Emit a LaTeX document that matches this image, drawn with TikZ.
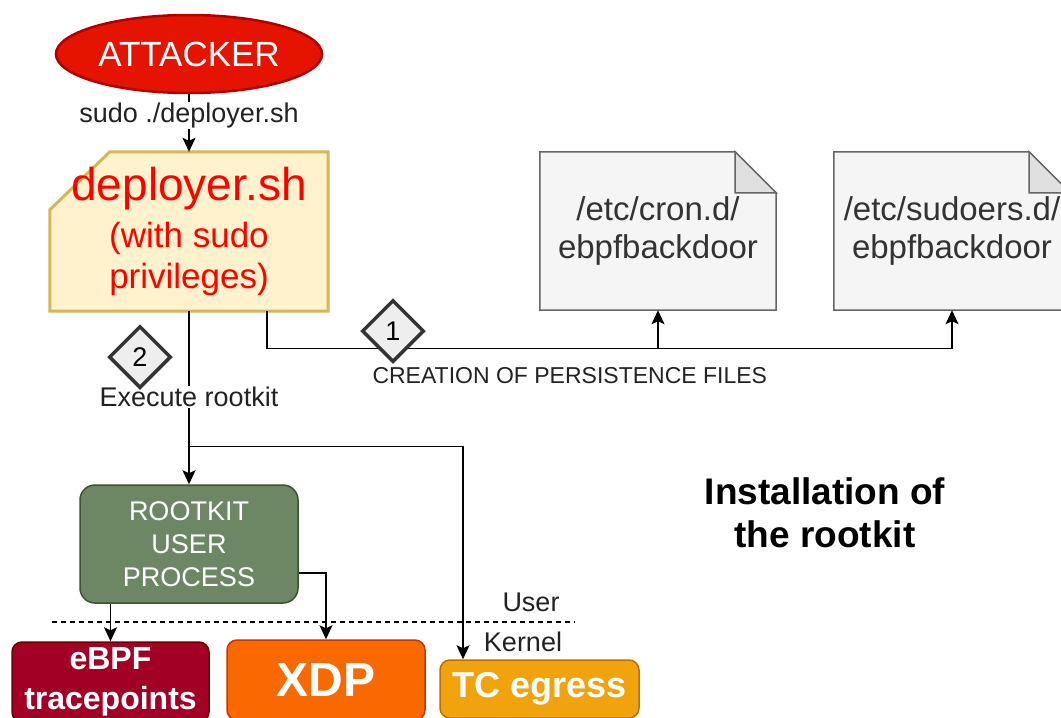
\documentclass[tikz,border=0pt]{standalone}
\usepackage{fontspec}
\setmainfont{Liberation Sans}
\usetikzlibrary{positioning,shapes.geometric,arrows.meta}
\definecolor{attfill}{HTML}{E51400}
\definecolor{attline}{HTML}{B20000}
\definecolor{depfill}{HTML}{FFF2CC}
\definecolor{depline}{HTML}{D6B656}
\definecolor{depred}{HTML}{FF0000}
\definecolor{filefill}{HTML}{F5F5F5}
\definecolor{foldfill}{HTML}{E0E0E0}
\definecolor{fileline}{HTML}{666666}
\definecolor{filetext}{HTML}{333333}
\definecolor{rkfill}{HTML}{6D8764}
\definecolor{rkline}{HTML}{3A5431}
\definecolor{ebpffill}{HTML}{A20025}
\definecolor{ebpfline}{HTML}{6F0000}
\definecolor{xdpfill}{HTML}{FA6800}
\definecolor{xdpline}{HTML}{C73500}
\definecolor{tcfill}{HTML}{F0A30A}
\definecolor{tcline}{HTML}{BD7000}
\definecolor{badgefill}{HTML}{EEEEEE}
\definecolor{badgeline}{HTML}{333333}
\definecolor{lbltext}{HTML}{222222}

\begin{document}
\begin{tikzpicture}[x=1pt,y=-1pt,
  arr/.style={-{Stealth[length=14pt,width=13pt,inset=3pt]},line width=1.4pt},
  lbl/.style={fill=white,inner sep=1pt,text=lbltext,font=\fontsize{27}{32}\selectfont},
  badge/.style={diamond,draw=badgeline,fill=badgefill,line width=3.5pt,minimum width=62,minimum height=62,inner sep=0,font=\fontsize{27}{30}\selectfont},
  kbox/.style={rounded corners=10pt,line width=1.5pt,text=white,align=center,inner sep=0},
  filebox/.style={minimum width=236,minimum height=158,inner sep=0}]
\useasboundingbox (0,0) rectangle (1061,718);

% attacker and script
\node[ellipse,draw=attline,fill=attfill,line width=2.5pt,minimum width=220,minimum height=78,text=white,font=\fontsize{35}{40}\selectfont] (attacker) at (189,54) {ATTACKER};
\node[minimum width=278,minimum height=159,inner sep=0] (deployer) at (189,231.5) {};
\filldraw[draw=depline,fill=depfill,line width=3pt] ([yshift=-58]deployer.north west) -- ([xshift=60]deployer.north west)
    -- (deployer.north east) -- (deployer.south east) -- (deployer.south west) -- cycle;
\node[text=depred,align=center,font=\fontsize{35}{41}\selectfont] (deployertxt) at (deployer) {{\fontsize{46}{50}\selectfont deployer.sh}\\[6pt](with sudo\\privileges)};

% persistence files
\node[filebox] (cron) at (658,231) {};
\filldraw[draw=fileline,fill=filefill,line width=1.5pt] (cron.south west) -- (cron.north west) -- ([xshift=-41]cron.north east)
    -- ([yshift=-41]cron.north east) -- (cron.south east) -- cycle;
\filldraw[draw=fileline,fill=foldfill,line width=1.5pt] ([xshift=-41]cron.north east) -- ([xshift=-41,yshift=-41]cron.north east) -- ([yshift=-41]cron.north east) -- cycle;
\node[text=filetext,align=center,font=\fontsize{33}{38}\selectfont] (crontxt) at (cron) {/etc/cron.d/\\ebpfbackdoor};
\node[filebox] (sudoers) at (952,231) {};
\filldraw[draw=fileline,fill=filefill,line width=1.5pt] (sudoers.south west) -- (sudoers.north west) -- ([xshift=-41]sudoers.north east)
    -- ([yshift=-41]sudoers.north east) -- (sudoers.south east) -- cycle;
\filldraw[draw=fileline,fill=foldfill,line width=1.5pt] ([xshift=-41]sudoers.north east) -- ([xshift=-41,yshift=-41]sudoers.north east) -- ([yshift=-41]sudoers.north east) -- cycle;
\node[text=filetext,align=center,font=\fontsize{33}{38}\selectfont] (sudoerstxt) at (sudoers) {/etc/sudoers.d/\\ebpfbackdoor};

% rootkit and kernel programs
\node[draw=rkline,fill=rkfill,rounded corners=15pt,line width=1.5pt,minimum width=218,minimum height=118,text=white,align=center,font=\fontsize{27}{33}\selectfont] (rootkit) at (189,544) {ROOTKIT\\USER\\PROCESS};
\node[kbox,draw=ebpfline,fill=ebpffill,minimum width=197,minimum height=80,font=\bfseries\fontsize{32}{40}\selectfont] (ebpf) at (110.5,682) {eBPF\\tracepoints};
\node[kbox,draw=xdpline,fill=xdpfill,minimum width=198,minimum height=80,font=\bfseries\fontsize{48}{52}\selectfont] (xdp) at (326,680) {XDP};
\node[kbox,draw=tcline,fill=tcfill,minimum width=199,minimum height=58,font=\bfseries\fontsize{36}{40}\selectfont] (tc) at (539.5,689) {TC egress};

% connectors
\draw[arr] (attacker) -- node[lbl,pos=0.37] {sudo ./deployer.sh} (deployer);
\draw[arr] (deployer) -- node[lbl,pos=0.494] {Execute rootkit} (rootkit);
\path (deployer.south) -- coordinate[pos=0.782] (split) (rootkit.north);
\draw[arr] (split) -| ([xshift=-76.5]tc.north);
\draw[arr] (rootkit.south -| ebpf.north) -- (ebpf.north);
\draw[arr] ([yshift=-29]rootkit.east) -| (xdp.north);
\coordinate (bus) at ([yshift=-37]deployer.south);
\draw[arr] ([xshift=78]deployer.south) |- (bus -| sudoers.south) -- (sudoers.south);
\draw[arr] (bus -| cron.south) -- (cron.south);

% step badges
\node[badge] (one) at (393,331) {1};
\node[badge] (two) at (140,357) {2};
\node[anchor=west,text=lbltext,font=\fontsize{23}{28}\selectfont] (persist) at (369,376) {CREATION OF PERSISTENCE FILES};

% user / kernel boundary
\draw[dashed,dash pattern=on 5pt off 4pt,line width=1.3pt] (52,622) -- (575,622);
\node[text=lbltext,font=\fontsize{27}{32}\selectfont] (user) at (531,602) {User};
\node[text=lbltext,font=\fontsize{27}{32}\selectfont] (kernel) at (523,642) {Kernel};

\node[align=center,font=\bfseries\fontsize{37}{43}\selectfont] (title) at (825,513) {Installation of\\the rootkit};
\end{tikzpicture}
\end{document}
